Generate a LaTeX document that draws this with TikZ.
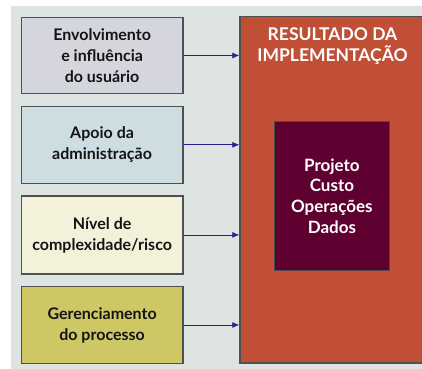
\documentclass[tikz,border=0pt]{standalone}
\usepackage{fontspec}
\setmainfont{Lato}
\usetikzlibrary{arrows.meta}
\definecolor{bgc}{HTML}{DEE4E1}
\definecolor{boxa}{HTML}{D5D5DD}
\definecolor{boxb}{HTML}{CDDDE1}
\definecolor{boxc}{HTML}{F3F1DA}
\definecolor{boxd}{HTML}{CDC865}
\definecolor{redc}{HTML}{C04F36}
\definecolor{darkc}{HTML}{5E0030}
\definecolor{arrc}{HTML}{2E1E96}
\definecolor{edgec}{HTML}{505050}
\definecolor{txtc}{HTML}{141414}
\tikzset{
  inbox/.style={draw=edgec, line width=1.2pt, minimum width=161.6pt, anchor=north west, inner sep=0pt, align=center, font=\bfseries\fontsize{16}{21}\selectfont, text=txtc},
  conn/.style={draw=arrc, line width=0.8pt, -{Latex[length=7pt,width=6pt]}}
}
\begin{document}
\begin{tikzpicture}[x=1pt,y=-1pt]
\useasboundingbox (0,0) rectangle (422,368);
\fill[bgc] (11,6) rectangle (430,372);
\node[inbox, fill=boxa, minimum height=76.3pt] (a) at (20.7,16.7) {Envolvimento\\e influência\\do usuário};
\node[inbox, fill=boxb, minimum height=77pt] (b) at (20.7,105.7) {Apoio da\\administração};
\node[inbox, fill=boxc, minimum height=78pt] (c) at (20.7,195.3) {Nível de\\complexidade/risco};
\node[inbox, fill=boxd, minimum height=76.7pt] (d) at (20.7,286) {Gerenciamento\\do processo};
\node[draw=edgec, line width=1.2pt, fill=redc, anchor=north west, minimum width=200pt, minimum height=346.6pt, inner sep=0pt] (r) at (239.3,15.7) {};
\node[text=white, align=center, font=\bfseries\fontsize{17.5}{21}\selectfont] (rt) at (332.5,46.5) {RESULTADO DA\\IMPLEMENTAÇÃO};
\node[draw=black!70, line width=0.8pt, fill=darkc, anchor=north west, minimum width=115.6pt, minimum height=148.7pt, inner sep=0pt, text=white, align=center, font=\bfseries\fontsize{17}{20.7}\selectfont] (k) at (273.7,121.3) {Projeto\\Custo\\Operações\\Dados};
\coordinate (ta) at (r.west |- a.east);
\coordinate (tb) at (r.west |- b.east);
\coordinate (tc) at (r.west |- c.east);
\coordinate (td) at (r.west |- d.east);
\draw[conn] (a.east) -- (ta);
\draw[conn] (b.east) -- (tb);
\draw[conn] (c.east) -- (tc);
\draw[conn] (d.east) -- (td);
\end{tikzpicture}
\end{document}
